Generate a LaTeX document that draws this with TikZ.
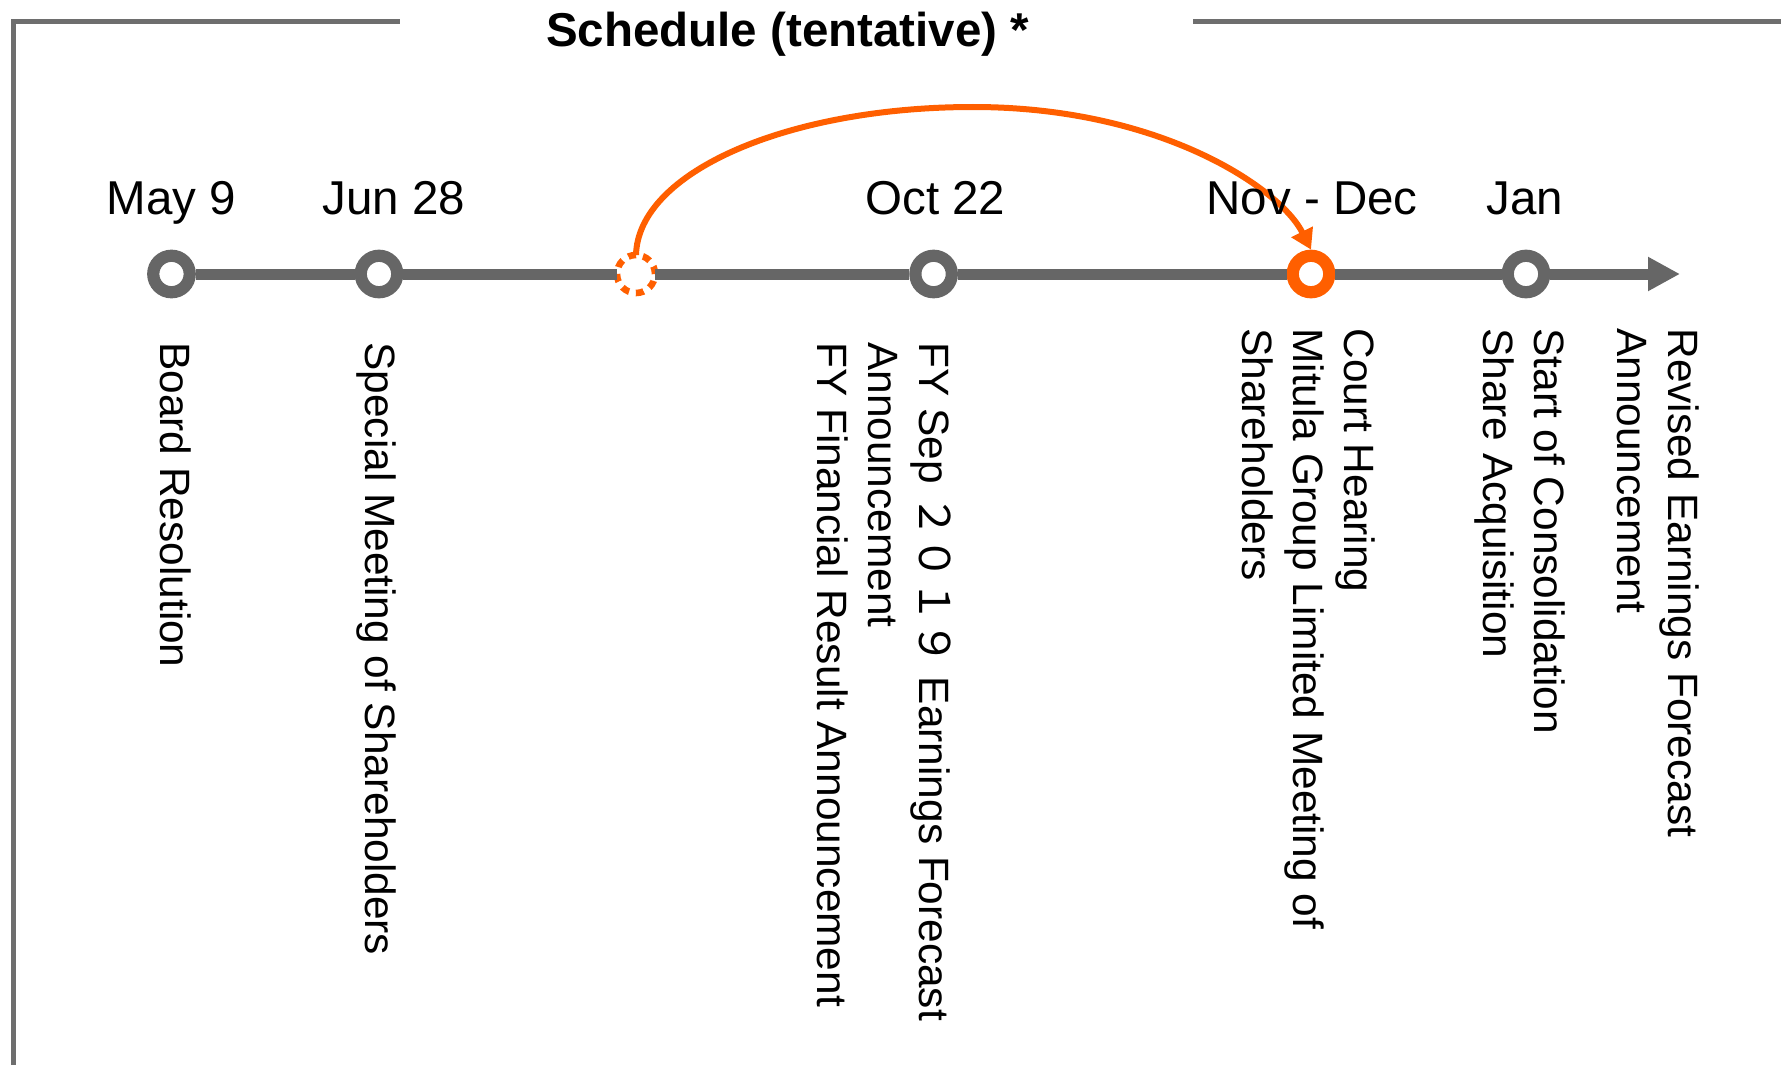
\documentclass[tikz,border=0pt]{standalone}
\usepackage{fontspec}
\setmainfont{Liberation Sans}
\newfontfamily\cjkdigits{Noto Sans CJK JP}
\usetikzlibrary{arrows.meta}
\definecolor{linegray}{HTML}{666666}
\definecolor{framegray}{HTML}{6E6E6E}
\definecolor{accent}{HTML}{FF5F00}

\begin{document}
\begin{tikzpicture}[x=0.5pt,y=-0.5pt,
  frameline/.style={draw=framegray, line width=2.5pt},
  axisline/.style={draw=linegray, line width=5.5pt},
  milestone/.style={circle, draw=linegray, fill=white, line width=6.1pt,
    inner sep=0pt, minimum size=18.25pt},
  keydate/.style={milestone, draw=accent},
  moved/.style={circle, draw=accent, fill=white, line width=3.3pt,
    dash pattern=on 3.9pt off 3.55pt, inner sep=0pt, outer sep=0pt,
    minimum size=19pt},
  postpone/.style={draw=accent, line width=3pt, -{Triangle[length=10pt,width=11.5pt]}},
  datelabel/.style={anchor=base, inner sep=0pt, font=\fontsize{23.75}{28}\selectfont},
  titlelabel/.style={anchor=base, inner sep=0pt, font=\bfseries\fontsize{23.75}{28}\selectfont},
  event/.style={rotate=-90, anchor=north west, inner sep=0pt, align=left,
    font=\fontsize{21.2}{25.5}\selectfont}
]
\useasboundingbox (0,0) rectangle (1781,1065);

% bracket frame and heading
\draw[frameline] (13.5,1065) -- (13.5,22) -- (400,22);
\draw[frameline] (1193,22) -- (1781,22);
\node[titlelabel] (title) at (787.7,47) {Schedule (tentative) *};

% milestones on the time axis
\node[milestone] (may)  at (171.5,274) {};
\node[milestone] (jun)  at (379,274) {};
\node[moved]     (old)  at (636,274) {};
\node[milestone] (oct)  at (933.6,274) {};
\node[keydate]   (nov)  at (1311,274) {};
\node[milestone] (jan)  at (1526,274) {};
\coordinate (axisend) at (1680,274);

% axis segments between milestones
\draw[axisline] (may) -- (jun);
\draw[axisline] (jun) -- (old);
\draw[axisline] (old) -- (oct);
\draw[axisline] (oct) -- (nov);
\draw[axisline] (nov) -- (jan);
\draw[axisline, -{Triangle[length=16pt,width=16pt]}] (jan) -- (axisend);

% postponed meeting
\coordinate (apex) at (973,107);
\draw[postpone] (old.north) .. controls (638,172) and (788,107) .. (apex)
  .. controls (1160,107) and (1280,188) .. (nov.north);

% dates
\node[datelabel] (dmay) at (171.5,214) {May 9};
\node[datelabel] (djun) at (393.6,214) {Jun 28};
\node[datelabel] (doct) at (935.4,214) {Oct 22};
\node[datelabel] (dnov) at (1312,214) {Nov - Dec};
\node[datelabel] (djan) at (1524.6,214) {Jan};

% events
\node[event] (ebrd) at (191.5,342) {Board Resolution};
\node[event] (espc) at (396.5,342) {Special Meeting of Shareholders};
\node[event] (efy)  at (951.5,342) {FY Sep {\cjkdigits ２０１９} Earnings Forecast\\Announcement\\FY Financial Result Announcement};
\node[event] (ecrt) at (1376,328) {Court Hearing\\Mitula Group Limited Meeting of\\Shareholders};
\node[event] (econ) at (1566,328) {Start of Consolidation\\Share Acquisition};
\node[event] (erev) at (1700,328) {Revised Earnings Forecast\\Announcement};
\end{tikzpicture}
\end{document}
